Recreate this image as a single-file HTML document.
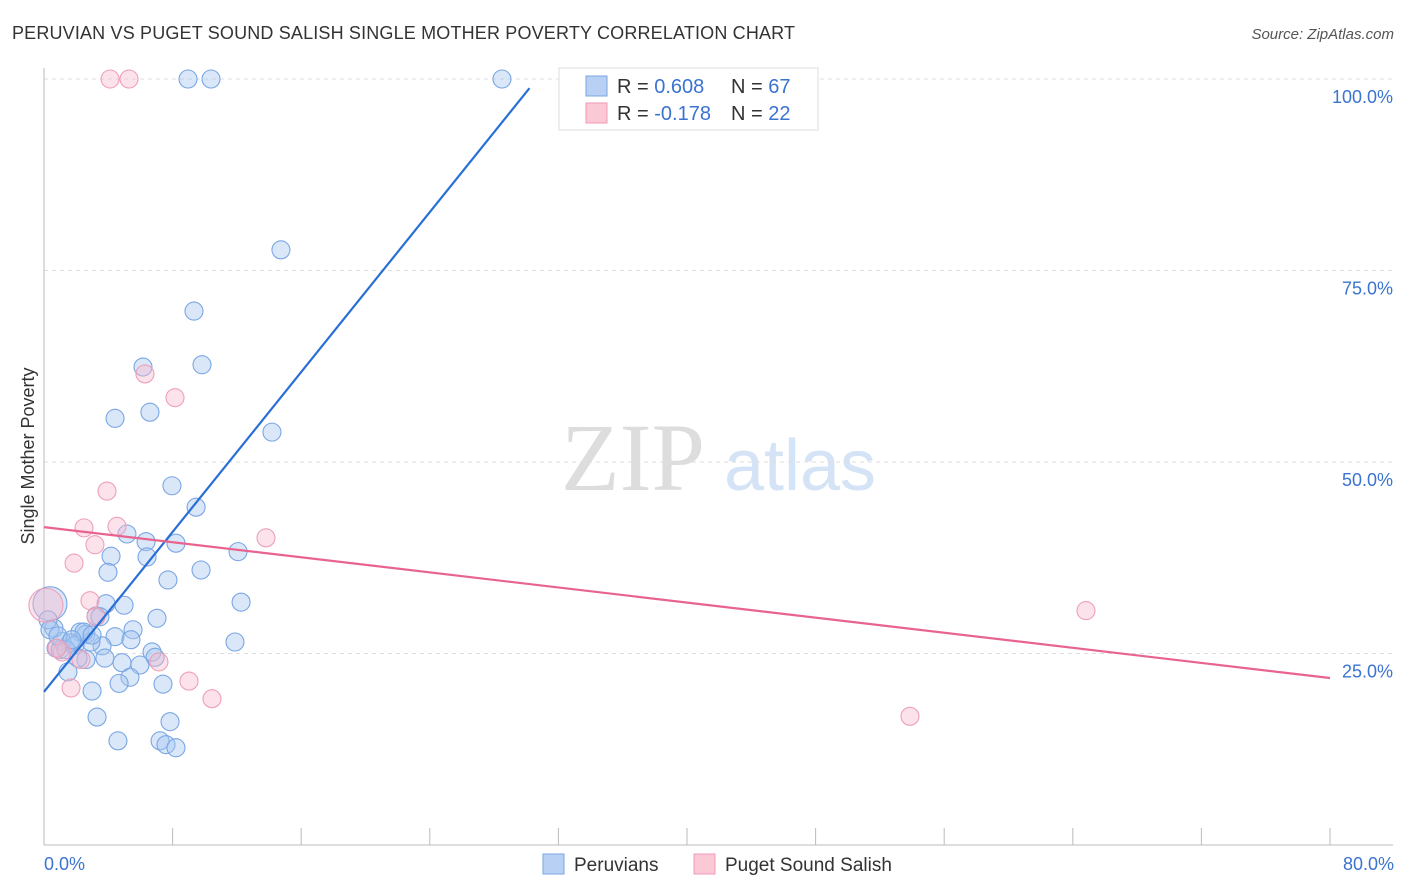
<!DOCTYPE html>
<html><head><meta charset="utf-8"><style>
body{margin:0;background:#fff;font-family:"Liberation Sans",sans-serif}
svg{display:block}
</style></head><body>
<svg id="chart" width="1406" height="892" xmlns="http://www.w3.org/2000/svg">
<text x="12" y="39" font-size="18" fill="#333" textLength="783">PERUVIAN VS PUGET SOUND SALISH SINGLE MOTHER POVERTY CORRELATION CHART</text>
<text x="1394" y="39" font-size="15" fill="#555" font-style="italic" text-anchor="end">Source: ZipAtlas.com</text>
<g>
<text x="633" y="490" font-size="96" fill="#ddd" font-family="Liberation Serif,serif" text-anchor="middle">ZIP</text>
<text x="800" y="490" font-size="72" fill="#d4e3f5" text-anchor="middle">atlas</text>
</g>
<g id="grid"></g>
<g id="axes"></g>
<g id="pts"></g>
<g id="trends"></g>
<text x="34" y="456" font-size="18" fill="#333" transform="rotate(-90 34 456)" text-anchor="middle">Single Mother Poverty</text>
<text x="44" y="870" font-size="18" fill="#3b73d0">0.0%</text>
<text x="1394" y="870" font-size="18" fill="#3b73d0" text-anchor="end">80.0%</text>
<g>
<rect x="559" y="68" width="259" height="62" fill="#fff" stroke="#ddd"/>
<rect x="586" y="76" width="21" height="20" fill="#b8d0f3" stroke="#7aa6e6"/>
<rect x="586" y="103" width="21" height="20" fill="#fbc8d6" stroke="#f09ab4"/>
<text x="617" y="93" font-size="20" fill="#333">R = <tspan fill="#3b73d0">0.608</tspan></text>
<text x="731" y="93" font-size="20" fill="#333">N = <tspan fill="#3b73d0">67</tspan></text>
<text x="617" y="120" font-size="20" fill="#333">R = <tspan fill="#3b73d0">-0.178</tspan></text>
<text x="731" y="120" font-size="20" fill="#333">N = <tspan fill="#3b73d0">22</tspan></text>
</g>
<g>
<rect x="543" y="854" width="21" height="20" fill="#b8d0f3" stroke="#7aa6e6"/>
<text x="574" y="871" font-size="19" fill="#333">Peruvians</text>
</g>
<g>
<rect x="694" y="854" width="21" height="20" fill="#fbc8d6" stroke="#f09ab4"/>
<text x="725" y="871" font-size="19" fill="#333">Puget Sound Salish</text>
</g>
</svg>
<script>
const yTicks=[25,50,75,100];
const yTickLabels=["25.0%","50.0%","75.0%","100.0%"];
const xTicks=[0,8,16,24,32,40,48,56,64,72,80];
const blueX=[8.96,10.39,28.49,14.74,9.33,6.16,9.83,4.42,6.59,14.18,7.96,9.46,5.16,6.35,8.21,12.07,4.17,6.41,3.98,7.71,9.77,4.98,3.86,12.26,7.03,3.23,3.48,5.54,2.24,2.61,4.42,5.41,11.88,1.62,1.12,3.61,2.92,0.62,0.37,0.25,0.75,6.72,6.91,3.79,2.61,4.85,5.97,1.49,5.35,4.67,7.40,2.99,3.30,7.84,4.60,7.22,7.59,8.21,1.0,1.93,2.12,0.37,1.37,2.49,0.87,1.74,2.99];
const blueY=[100,100,100,77.7,69.7,62.4,62.7,55.7,56.5,53.9,46.9,44.1,40.6,39.6,39.4,38.3,37.7,37.6,35.6,34.6,35.9,31.3,31.5,31.7,29.6,29.9,29.8,28.1,27.8,27.5,27.2,26.8,26.5,26.4,26.6,26.0,26.5,28.3,31.5,29.4,25.7,25.2,24.5,24.4,24.2,23.8,23.5,22.6,21.9,21.1,21.0,20.1,16.7,16.1,13.6,13.6,13.1,12.7,25.5,26.1,24.4,28.1,25.5,27.8,27.3,26.8,27.4];
const pinkX=[4.11,5.29,6.28,8.15,3.92,2.49,4.54,3.17,13.81,1.87,2.86,3.23,0.12,1.12,2.30,1.68,7.15,9.02,10.45,53.87,64.82,0.81];
const pinkY=[100,100,61.5,58.4,46.2,41.4,41.6,39.2,40.1,36.8,31.9,29.8,31.3,25.2,24.2,20.5,23.9,21.4,19.1,16.8,30.6,25.7];
const blueTrend=[[0,20.0],[30.2,98.8]];
const pinkTrend=[[0,41.5],[80,21.8]];
const NS="http://www.w3.org/2000/svg";
const X=v=>44+v/80*1286, Y=v=>845-v*7.66;
function mk(t,a,p){const e=document.createElementNS(NS,t);for(const k in a)e.setAttribute(k,a[k]);document.getElementById(p).appendChild(e);return e;}
yTicks.forEach((t,i)=>{
 const l=mk('line',{x1:44,x2:1393,y1:Y(t),y2:Y(t),stroke:'#ddd','stroke-dasharray':'4,4'},'grid');
 
 
 const tx=mk('text',{x:1393,y:Y(t)+24,'font-size':18,fill:'#3b73d0','text-anchor':'end'},'grid');
 tx.textContent=yTickLabels[i];
 
 
});
const ax=mk('line',{x1:44,x2:1393,y1:845,y2:845,stroke:'#bbb'},'axes');


const ay=mk('line',{x1:44,x2:44,y1:68,y2:845,stroke:'#bbb'},'axes');


xTicks.forEach(t=>{
 const l=mk('line',{x1:X(t),x2:X(t),y1:828,y2:845,stroke:'#bbb'},'axes');
 
 
});
function pts(xs,ys,fill,stroke,name){
 xs.forEach((x,i)=>{
  const big=(x<0.5&&ys[i]>30);
  const c=mk('circle',{cx:X(x),cy:Y(ys[i]),r:big?17:9,fill:fill,stroke:stroke,'stroke-width':1.1},'pts');
  
  
 });
}
pts(blueX,blueY,'rgba(165,198,240,0.42)','#7aa6e4','peruvian-point');
pts(pinkX,pinkY,'rgba(248,185,204,0.42)','#eea0b8','puget-sound-salish-point');
const bt=mk('line',{x1:X(blueTrend[0][0]),y1:Y(blueTrend[0][1]),x2:X(blueTrend[1][0]),y2:Y(blueTrend[1][1]),stroke:'#2a6fd6','stroke-width':2.2},'trends');


const pt=mk('line',{x1:X(pinkTrend[0][0]),y1:Y(pinkTrend[0][1]),x2:X(pinkTrend[1][0]),y2:Y(pinkTrend[1][1]),stroke:'#e8648e','stroke-width':2.2},'trends');


</script>
</body></html>
